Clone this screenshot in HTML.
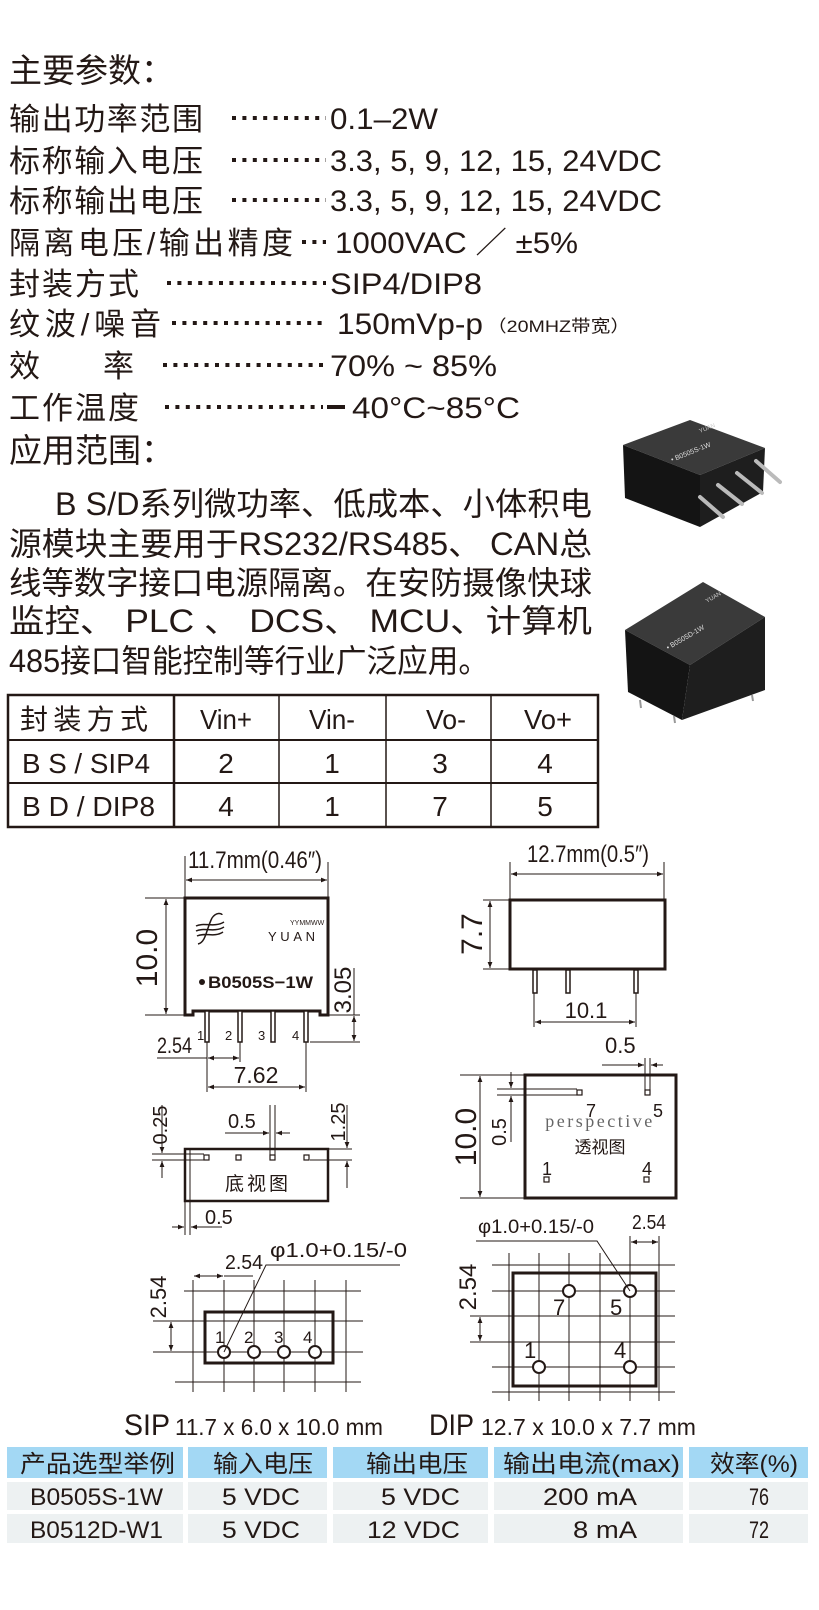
<!DOCTYPE html>
<html><head><meta charset="utf-8"><style>
html,body{margin:0;padding:0;background:#fff;}
svg{display:block;}
text{font-family:"Liberation Sans","Noto Sans CJK SC",sans-serif;fill:#231815;}
.c{font-family:"Liberation Sans","Noto Sans CJK SC",sans-serif;}
.d{stroke:#231815;stroke-width:1;fill:none;}
</style></head><body>
<svg width="819" height="1610" viewBox="0 0 819 1610" xmlns="http://www.w3.org/2000/svg">
<defs>
<marker id="a" viewBox="0 0 10 10" refX="10" refY="5" markerWidth="8" markerHeight="6" orient="auto-start-reverse"><path d="M0,1 L10,5 L0,9z" fill="#231815"/></marker>
</defs>

<!-- Parameters -->
<text x="9" y="82" font-size="33">主要参数：</text>
<g font-size="31">
<text x="9" y="130" textLength="194">输出功率范围</text>
<text x="9" y="172" textLength="194">标称输入电压</text>
<text x="9" y="212" textLength="194">标称输出电压</text>
<text x="9" y="254" textLength="284">隔离电压/输出精度</text>
<text x="9" y="295" textLength="130">封装方式</text>
<text x="9" y="335" textLength="152">纹波/噪音</text>
<text x="9" y="377">效</text><text x="103" y="377">率</text>
<text x="9" y="419" textLength="130">工作温度</text>
</g>
<g stroke="#231815" stroke-width="4" stroke-dasharray="4 6.4">
<line x1="232" y1="118" x2="326" y2="118"/>
<line x1="232" y1="160" x2="326" y2="160"/>
<line x1="232" y1="200" x2="326" y2="200"/>
<line x1="302" y1="242" x2="326" y2="242"/>
<line x1="167" y1="283" x2="326" y2="283"/>
<line x1="172" y1="323" x2="326" y2="323"/>
<line x1="163" y1="365" x2="323" y2="365"/>
<line x1="165" y1="407" x2="323" y2="407"/>
</g>
<rect x="327" y="405" width="18" height="4" fill="#231815"/>
<g font-size="30">
<text x="330" y="129" textLength="108" lengthAdjust="spacingAndGlyphs">0.1–2W</text>
<text x="330" y="171" textLength="332" lengthAdjust="spacingAndGlyphs">3.3, 5, 9, 12, 15, 24VDC</text>
<text x="330" y="211" textLength="332" lengthAdjust="spacingAndGlyphs">3.3, 5, 9, 12, 15, 24VDC</text>
<text x="335" y="253" textLength="243" lengthAdjust="spacingAndGlyphs">1000VAC ／ ±5%</text>
<text x="330" y="294" textLength="152" lengthAdjust="spacingAndGlyphs">SIP4/DIP8</text>
<text x="337" y="334" textLength="146" lengthAdjust="spacingAndGlyphs">150mVp-p</text>
<text x="330" y="376" textLength="167" lengthAdjust="spacingAndGlyphs">70% ~ 85%</text>
<text x="352" y="418" textLength="168" lengthAdjust="spacingAndGlyphs">40°C~85°C</text>
</g>
<text x="487" y="332" font-size="17" textLength="143" lengthAdjust="spacingAndGlyphs">（20MHZ带宽）</text>

<text x="9" y="462" font-size="33">应用范围：</text>
<g font-size="32">
<text x="55" y="515" textLength="537" lengthAdjust="spacingAndGlyphs">B S/D系列微功率、低成本、小体积电</text>
<text x="9" y="555" textLength="583" lengthAdjust="spacingAndGlyphs">源模块主要用于RS232/RS485、 CAN总</text>
<text x="9" y="594" textLength="583" lengthAdjust="spacingAndGlyphs">线等数字接口电源隔离。在安防摄像快球</text>
<text x="9" y="632" textLength="583" lengthAdjust="spacingAndGlyphs">监控、 PLC 、 DCS、 MCU、计算机</text>
<text x="9" y="672" textLength="480" lengthAdjust="spacingAndGlyphs">485接口智能控制等行业广泛应用。</text>
</g>

<!-- product photos -->
<g>
<polygon points="623,445,690,420,765,448,700,475" fill="#3a3a3a"/>
<polygon points="623,445,700,475,700,527,625,498" fill="#141414"/>
<polygon points="700,475,765,448,763,492,700,527" fill="#1e1e1e"/>
<g stroke="#bbb" stroke-width="4" stroke-linecap="round">
<line x1="700" y1="497" x2="723" y2="517"/><line x1="718" y1="485" x2="742" y2="504"/>
<line x1="737" y1="473" x2="762" y2="493"/><line x1="756" y1="461" x2="780" y2="482"/>
</g>
<text x="0" y="0" font-size="7" fill="#ddd" style="fill:#ddd" transform="translate(672,462) rotate(-22)">• B0505S-1W</text>
<text x="0" y="0" font-size="6" style="fill:#ccc" transform="translate(700,433) rotate(-22)">YUAN</text>
<polygon points="625,630,703,582,765,617,690,665" fill="#3a3a3a"/>
<polygon points="625,630,690,665,682,720,628,692" fill="#141414"/>
<polygon points="690,665,765,617,765,690,682,720" fill="#1e1e1e"/>
<g stroke="#999" stroke-width="2"><line x1="640" y1="700" x2="641" y2="708"/><line x1="674" y1="716" x2="675" y2="723"/><line x1="752" y1="695" x2="753" y2="701"/></g>
<text x="0" y="0" font-size="7" style="fill:#ddd" transform="translate(668,650) rotate(-30)">• B0505D-1W</text>
<text x="0" y="0" font-size="6" style="fill:#ccc" transform="translate(707,603) rotate(-30)">YUAN</text>
</g>

<!-- pin table -->
<g stroke="#231815" fill="none">
<rect x="8" y="695" width="590" height="132" stroke-width="2.5"/>
<line x1="8" y1="740" x2="598" y2="740" stroke-width="2"/>
<line x1="8" y1="783" x2="598" y2="783" stroke-width="2"/>
<line x1="174" y1="695" x2="174" y2="827" stroke-width="2.5"/>
<line x1="279" y1="695" x2="279" y2="827" stroke-width="1.5"/>
<line x1="386" y1="695" x2="386" y2="827" stroke-width="1.5"/>
<line x1="491" y1="695" x2="491" y2="827" stroke-width="1.5"/>
</g>
<g font-size="28">
<text x="20" y="729" textLength="128">封装方式</text>
<text x="226" y="729" text-anchor="middle" textLength="52" lengthAdjust="spacingAndGlyphs">Vin+</text>
<text x="332" y="729" text-anchor="middle" textLength="46" lengthAdjust="spacingAndGlyphs">Vin-</text>
<text x="446" y="729" text-anchor="middle" textLength="40" lengthAdjust="spacingAndGlyphs">Vo-</text>
<text x="548" y="729" text-anchor="middle" textLength="48" lengthAdjust="spacingAndGlyphs">Vo+</text>
<text x="22" y="773" textLength="128" lengthAdjust="spacingAndGlyphs">B S / SIP4</text>
<text x="22" y="816" textLength="133" lengthAdjust="spacingAndGlyphs">B D / DIP8</text>
<text x="226" y="773" text-anchor="middle">2</text><text x="332" y="773" text-anchor="middle">1</text>
<text x="440" y="773" text-anchor="middle">3</text><text x="545" y="773" text-anchor="middle">4</text>
<text x="226" y="816" text-anchor="middle">4</text><text x="332" y="816" text-anchor="middle">1</text>
<text x="440" y="816" text-anchor="middle">7</text><text x="545" y="816" text-anchor="middle">5</text>
</g>

<!-- SIP front view -->
<text x="188" y="868" font-size="24" textLength="134" lengthAdjust="spacingAndGlyphs">11.7mm(0.46″)</text>
<line class="d" x1="185" y1="856" x2="185" y2="898"/>
<line class="d" x1="328" y1="862" x2="328" y2="898"/>
<line class="d" x1="186" y1="880" x2="327" y2="880" marker-start="url(#a)" marker-end="url(#a)"/>
<path d="M185,898 H328 V1015 H320 V1011 H193 V1015 H185 Z" fill="none" stroke="#231815" stroke-width="3"/>
<line class="d" x1="145" y1="898" x2="185" y2="898"/>
<line class="d" x1="145" y1="1015" x2="185" y2="1015"/>
<line class="d" x1="166" y1="899" x2="166" y2="1014" marker-start="url(#a)" marker-end="url(#a)"/>
<text font-size="30" text-anchor="middle" transform="translate(157,958) rotate(-90)">10.0</text>
<g fill="none" stroke="#231815" stroke-width="1.5">
<path d="M212,918 C206,930 206,942 198,944"/>
<path d="M212,918 C216,912 222,913 222,915"/>
<path d="M196,926 C204,922 214,928 224,922"/>
<path d="M196,931 C204,927 214,933 224,927"/>
<path d="M197,936 C205,932 214,938 223,932"/>
</g>
<text x="290" y="925" font-size="7">YYMMWW</text>
<text x="268" y="941" font-size="13" textLength="47">YUAN</text>
<circle cx="202" cy="982" r="3" fill="#231815"/>
<text x="208" y="988" font-size="17" font-weight="bold" textLength="105" lengthAdjust="spacingAndGlyphs">B0505S−1W</text>
<g fill="#fff" stroke="#231815" stroke-width="1.5">
<rect x="205" y="1011" width="4" height="31"/><rect x="238" y="1011" width="4" height="31"/>
<rect x="271" y="1011" width="4" height="31"/><rect x="304" y="1011" width="4" height="31"/>
</g>
<g font-size="13"><text x="197" y="1040">1</text><text x="225" y="1040">2</text><text x="258" y="1040">3</text><text x="292" y="1040">4</text></g>
<line class="d" x1="328" y1="1015" x2="360" y2="1015"/>
<line class="d" x1="310" y1="1042" x2="360" y2="1042"/>
<line class="d" x1="354" y1="968" x2="354" y2="1015"/>
<line class="d" x1="354" y1="1016" x2="354" y2="1041" marker-start="url(#a)" marker-end="url(#a)"/>
<text font-size="24" text-anchor="middle" transform="translate(351,990) rotate(-90)">3.05</text>
<text x="157" y="1053" font-size="22" textLength="35" lengthAdjust="spacingAndGlyphs">2.54</text>
<line class="d" x1="157" y1="1058" x2="207" y2="1058"/>
<line class="d" x1="208" y1="1058" x2="239" y2="1058" marker-start="url(#a)" marker-end="url(#a)"/>
<line class="d" x1="207" y1="1042" x2="207" y2="1092"/>
<line class="d" x1="240" y1="1042" x2="240" y2="1062"/>
<line class="d" x1="306" y1="1042" x2="306" y2="1092"/>
<text x="256" y="1083" font-size="23" text-anchor="middle">7.62</text>
<line class="d" x1="208" y1="1087" x2="305" y2="1087" marker-start="url(#a)" marker-end="url(#a)"/>

<!-- SIP bottom view -->
<rect x="185" y="1149" width="143" height="52" fill="none" stroke="#231815" stroke-width="2.5"/>
<line class="d" x1="190" y1="1149" x2="190" y2="1235"/>
<line class="d" x1="185" y1="1201" x2="185" y2="1235"/>
<g fill="#fff" stroke="#231815" stroke-width="1.2">
<rect x="204" y="1155" width="5" height="5"/><rect x="236" y="1155" width="5" height="5"/>
<rect x="270" y="1155" width="5" height="5"/><rect x="304" y="1155" width="5" height="5"/>
</g>
<line class="d" x1="152" y1="1154" x2="204" y2="1154"/>
<line class="d" x1="152" y1="1160" x2="204" y2="1160"/>
<line class="d" x1="270" y1="1105" x2="270" y2="1155"/>
<line class="d" x1="275" y1="1105" x2="275" y2="1155"/>
<text x="228" y="1128" font-size="20">0.5</text>
<line class="d" x1="225" y1="1133" x2="269" y2="1133" marker-end="url(#a)"/>
<line class="d" x1="290" y1="1133" x2="276" y2="1133" marker-end="url(#a)"/>
<text font-size="20" text-anchor="middle" transform="translate(167,1125) rotate(-90)">0.25</text>
<line class="d" x1="162" y1="1105" x2="162" y2="1153" marker-end="url(#a)"/>
<line class="d" x1="162" y1="1178" x2="162" y2="1161" marker-end="url(#a)"/>
<text font-size="20" text-anchor="middle" transform="translate(345,1122) rotate(-90)">1.25</text>
<line class="d" x1="328" y1="1149" x2="352" y2="1149"/>
<line class="d" x1="310" y1="1160" x2="352" y2="1160"/>
<line class="d" x1="347" y1="1105" x2="347" y2="1148" marker-end="url(#a)"/>
<line class="d" x1="347" y1="1188" x2="347" y2="1161" marker-end="url(#a)"/>
<text x="258" y="1190" font-size="19" text-anchor="middle" letter-spacing="3">底视图</text>
<text x="205" y="1224" font-size="20">0.5</text>
<line class="d" x1="172" y1="1227" x2="184" y2="1227" marker-end="url(#a)"/>
<line class="d" x1="222" y1="1227" x2="191" y2="1227" marker-end="url(#a)"/>

<!-- DIP front view -->
<text x="588" y="862" font-size="24" text-anchor="middle" textLength="122" lengthAdjust="spacingAndGlyphs">12.7mm(0.5″)</text>
<line class="d" x1="510" y1="862" x2="510" y2="900"/>
<line class="d" x1="664" y1="862" x2="664" y2="900"/>
<line class="d" x1="511" y1="874" x2="663" y2="874" marker-start="url(#a)" marker-end="url(#a)"/>
<rect x="510" y="900" width="155" height="69" fill="none" stroke="#231815" stroke-width="3"/>
<line class="d" x1="483" y1="900" x2="510" y2="900"/>
<line class="d" x1="483" y1="969" x2="510" y2="969"/>
<line class="d" x1="490" y1="901" x2="490" y2="968" marker-start="url(#a)" marker-end="url(#a)"/>
<text font-size="30" text-anchor="middle" transform="translate(482,934) rotate(-90)">7.7</text>
<g fill="#fff" stroke="#231815" stroke-width="1.5">
<rect x="533" y="970" width="4" height="23"/><rect x="566" y="970" width="4" height="23"/><rect x="634" y="970" width="4" height="23"/>
</g>
<line class="d" x1="534" y1="993" x2="534" y2="1027"/>
<line class="d" x1="636" y1="993" x2="636" y2="1027"/>
<text x="586" y="1018" font-size="22" text-anchor="middle">10.1</text>
<line class="d" x1="535" y1="1022" x2="635" y2="1022" marker-start="url(#a)" marker-end="url(#a)"/>

<!-- DIP perspective -->
<rect x="525" y="1075" width="151" height="123" fill="none" stroke="#231815" stroke-width="3"/>
<line class="d" x1="460" y1="1075" x2="525" y2="1075"/>
<line class="d" x1="460" y1="1198" x2="525" y2="1198"/>
<line class="d" x1="480" y1="1076" x2="480" y2="1197" marker-start="url(#a)" marker-end="url(#a)"/>
<text font-size="30" text-anchor="middle" transform="translate(476,1137) rotate(-90)">10.0</text>
<text x="605" y="1053" font-size="22">0.5</text>
<line class="d" x1="645" y1="1058" x2="645" y2="1091"/>
<line class="d" x1="650" y1="1058" x2="650" y2="1091"/>
<line class="d" x1="602" y1="1065" x2="644" y2="1065" marker-end="url(#a)"/>
<line class="d" x1="663" y1="1065" x2="651" y2="1065" marker-end="url(#a)"/>
<g fill="#fff" stroke="#231815" stroke-width="1.2">
<rect x="645" y="1090" width="5" height="5"/><rect x="577" y="1090" width="5" height="5"/>
<rect x="544" y="1177" width="5" height="5"/><rect x="644" y="1177" width="5" height="5"/>
</g>
<line class="d" x1="497" y1="1089" x2="577" y2="1089"/>
<line class="d" x1="497" y1="1095" x2="577" y2="1095"/>
<line class="d" x1="511" y1="1072" x2="511" y2="1088" marker-end="url(#a)"/>
<line class="d" x1="511" y1="1142" x2="511" y2="1096" marker-end="url(#a)"/>
<text font-size="20" text-anchor="middle" transform="translate(506,1132) rotate(-90)">0.5</text>
<g font-size="18"><text x="586" y="1117">7</text><text x="653" y="1117">5</text><text x="542" y="1175">1</text><text x="642" y="1175">4</text></g>
<text x="600" y="1127" font-size="18" text-anchor="middle" letter-spacing="2.5" style="font-family:'Liberation Serif',serif;fill:#666">perspective</text>
<text x="600" y="1153" font-size="17" text-anchor="middle">透视图</text>

<!-- SIP footprint -->
<g stroke="#231815" stroke-width="1">
<line x1="193" y1="1280" x2="193" y2="1392"/><line x1="224" y1="1280" x2="224" y2="1392"/>
<line x1="254" y1="1280" x2="254" y2="1392"/><line x1="284" y1="1280" x2="284" y2="1392"/>
<line x1="315" y1="1280" x2="315" y2="1392"/><line x1="346" y1="1280" x2="346" y2="1392"/>
<line x1="184" y1="1291" x2="361" y2="1291"/><line x1="153" y1="1321" x2="363" y2="1321"/>
<line x1="153" y1="1352" x2="363" y2="1352"/><line x1="175" y1="1382" x2="361" y2="1382"/>
</g>
<rect x="205" y="1312" width="128" height="51" fill="none" stroke="#231815" stroke-width="3"/>
<g fill="#fff" stroke="#231815" stroke-width="2">
<circle cx="224" cy="1352" r="6"/><circle cx="254" cy="1352" r="6"/><circle cx="284" cy="1352" r="6"/><circle cx="315" cy="1352" r="6"/>
</g>
<g font-size="17"><text x="215" y="1343">1</text><text x="244" y="1343">2</text><text x="274" y="1343">3</text><text x="303" y="1343">4</text></g>
<line class="d" x1="171" y1="1322" x2="171" y2="1351" marker-start="url(#a)" marker-end="url(#a)"/>
<text font-size="22" text-anchor="middle" transform="translate(166,1297) rotate(-90)">2.54</text>
<line class="d" x1="194" y1="1276" x2="223" y2="1276" marker-start="url(#a)" marker-end="url(#a)"/>
<line class="d" x1="224" y1="1276" x2="253" y2="1276"/>
<text x="225" y="1269" font-size="20" textLength="38" lengthAdjust="spacingAndGlyphs">2.54</text>
<text x="270" y="1257" font-size="20" textLength="137" lengthAdjust="spacingAndGlyphs">φ1.0+0.15/-0</text>
<polyline class="d" points="400,1265 266,1265 224,1352"/>

<!-- DIP footprint -->
<g stroke="#231815" stroke-width="1">
<line x1="509" y1="1253" x2="509" y2="1401"/><line x1="539" y1="1253" x2="539" y2="1401"/>
<line x1="569" y1="1253" x2="569" y2="1401"/><line x1="600" y1="1253" x2="600" y2="1401"/>
<line x1="630" y1="1253" x2="630" y2="1401"/><line x1="659" y1="1236" x2="659" y2="1401"/>
<line x1="630" y1="1236" x2="630" y2="1253"/>
<line x1="492" y1="1265" x2="675" y2="1265"/><line x1="492" y1="1291" x2="675" y2="1291"/>
<line x1="470" y1="1316" x2="675" y2="1316"/><line x1="470" y1="1342" x2="675" y2="1342"/>
<line x1="492" y1="1367" x2="675" y2="1367"/><line x1="492" y1="1392" x2="675" y2="1392"/>
</g>
<rect x="513" y="1273" width="143" height="113" fill="none" stroke="#231815" stroke-width="3"/>
<g fill="#fff" stroke="#231815" stroke-width="2">
<circle cx="569" cy="1291" r="6"/><circle cx="630" cy="1291" r="6"/><circle cx="539" cy="1367" r="6"/><circle cx="630" cy="1367" r="6"/>
</g>
<g font-size="22"><text x="553" y="1315">7</text><text x="610" y="1315">5</text><text x="524" y="1358">1</text><text x="614" y="1358">4</text></g>
<line class="d" x1="480" y1="1317" x2="480" y2="1341" marker-start="url(#a)" marker-end="url(#a)"/>
<text font-size="24" text-anchor="middle" transform="translate(476,1287) rotate(-90)">2.54</text>
<text x="478" y="1233" font-size="19" textLength="116" lengthAdjust="spacingAndGlyphs">φ1.0+0.15/-0</text>
<polyline class="d" points="476,1241 597,1241 630,1291"/>
<text x="632" y="1229" font-size="20" textLength="34" lengthAdjust="spacingAndGlyphs">2.54</text>
<line class="d" x1="631" y1="1242" x2="658" y2="1242" marker-start="url(#a)" marker-end="url(#a)"/>

<!-- package labels -->
<text x="124" y="1435" font-size="30" textLength="46" lengthAdjust="spacingAndGlyphs">SIP</text>
<text x="175" y="1435" font-size="23" textLength="208" lengthAdjust="spacingAndGlyphs">11.7 x 6.0 x 10.0 mm</text>
<text x="429" y="1435" font-size="30" textLength="45" lengthAdjust="spacingAndGlyphs">DIP</text>
<text x="481" y="1435" font-size="23" textLength="215" lengthAdjust="spacingAndGlyphs">12.7 x 10.0 x 7.7 mm</text>

<!-- bottom table -->
<g fill="#a3d8f4">
<rect x="7" y="1447" width="176" height="31"/><rect x="188" y="1447" width="139" height="31"/>
<rect x="333" y="1447" width="155" height="31"/><rect x="494" y="1447" width="189" height="31"/>
<rect x="689" y="1447" width="119" height="31"/>
</g>
<g fill="#edf1f2">
<rect x="7" y="1482" width="176" height="28"/><rect x="188" y="1482" width="139" height="28"/>
<rect x="333" y="1482" width="155" height="28"/><rect x="494" y="1482" width="189" height="28"/>
<rect x="689" y="1482" width="119" height="28"/>
<rect x="7" y="1514" width="176" height="29"/><rect x="188" y="1514" width="139" height="29"/>
<rect x="333" y="1514" width="155" height="29"/><rect x="494" y="1514" width="189" height="29"/>
<rect x="689" y="1514" width="119" height="29"/>
</g>
<g font-size="24">
<text x="20" y="1472" textLength="155" lengthAdjust="spacingAndGlyphs">产品选型举例</text>
<text x="213" y="1472" textLength="100" lengthAdjust="spacingAndGlyphs">输入电压</text>
<text x="366" y="1472" textLength="102" lengthAdjust="spacingAndGlyphs">输出电压</text>
<text x="503" y="1472" textLength="177" lengthAdjust="spacingAndGlyphs">输出电流(max)</text>
<text x="710" y="1472" textLength="88" lengthAdjust="spacingAndGlyphs">效率(%)</text>
<text x="30" y="1505" textLength="133" lengthAdjust="spacingAndGlyphs">B0505S-1W</text>
<text x="222" y="1505" textLength="78" lengthAdjust="spacingAndGlyphs">5 VDC</text>
<text x="381" y="1505" textLength="79" lengthAdjust="spacingAndGlyphs">5 VDC</text>
<text x="543" y="1505" textLength="94" lengthAdjust="spacingAndGlyphs">200 mA</text>
<text x="749" y="1505" textLength="20" lengthAdjust="spacingAndGlyphs">76</text>
<text x="30" y="1538" textLength="133" lengthAdjust="spacingAndGlyphs">B0512D-W1</text>
<text x="222" y="1538" textLength="78" lengthAdjust="spacingAndGlyphs">5 VDC</text>
<text x="367" y="1538" textLength="93" lengthAdjust="spacingAndGlyphs">12 VDC</text>
<text x="573" y="1538" textLength="64" lengthAdjust="spacingAndGlyphs">8 mA</text>
<text x="749" y="1538" textLength="20" lengthAdjust="spacingAndGlyphs">72</text>
</g>
</svg>
</body></html>
